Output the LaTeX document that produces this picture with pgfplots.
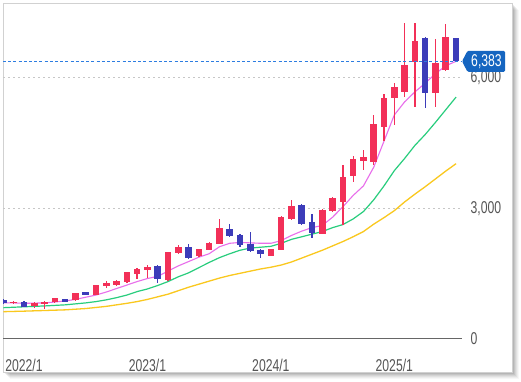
\documentclass[border=0pt]{standalone}
\usepackage{pgfplots}
\pgfplotsset{compat=1.18}
\usepackage{pgfplotstable}
\usepackage{fontspec}
\setmainfont{Liberation Sans}
\definecolor{cred}{RGB}{242,48,88}
\definecolor{cblue}{RGB}{60,60,185}
\definecolor{mapink}{RGB}{232,110,235}
\definecolor{magreen}{RGB}{40,205,125}
\definecolor{mayellow}{RGB}{250,200,30}
\definecolor{txtgray}{RGB}{85,85,85}
\definecolor{boxblue}{RGB}{21,101,192}
\definecolor{lineblue}{RGB}{45,125,225}

\pgfplotstableread{
m o h l c
-1 830 870 815 858
1 759 840 720 821
2 798 875 700 855
3 844 950 835 936
5 890 1060 880 1051
7 1020 1250 1010 1242
8 1219 1330 1170 1281
9 1235 1360 1225 1338
10 1300 1550 1290 1545
11 1495 1635 1390 1610
12 1587 1690 1400 1663
14 1357 2000 1340 1993
15 1970 2160 1960 2108
17 1915 2080 1880 2062
18 2046 2230 2040 2214
19 2184 2752 2180 2545
24 1909 2080 1900 2062
25 2046 2830 2040 2812
26 2752 3200 2740 3058
29 2420 2990 2410 2967
30 2944 3260 2930 3235
31 3157 4000 2622 3718
32 3748 4200 3617 4131
33 4100 4345 3885 4177
34 4060 5150 4000 4936
35 4870 5640 4550 5533
36 5550 5878 4920 5801
37 5686 7273 5571 6299
38 6376 7273 5341 6851
40 5648 6900 5326 6338
41 6184 7242 6150 6950
}\upT

\pgfplotstableread{
m o h l c
-2 905 925 815 830
0 858 870 730 745
4 913 925 845 858
6 1070 1090 1005 1020
13 1686 1700 1281 1373
16 2123 2180 1840 1855
20 2522 2640 2340 2368
21 2391 2420 2120 2150
22 2184 2467 2000 2023
23 2046 2080 1855 1955
27 3081 3100 2620 2645
28 2680 2874 2315 2440
39 6913 6950 5303 5648
42 6913 6930 6370 6383
}\downT

\pgfplotstableread{
m v
-2 830
-1 830
0 820
1 825
2 830
3 850
4 875
5 910
6 960
7 1010
8 1080
9 1160
10 1240
11 1320
12 1390
13 1440
14 1560
15 1680
16 1780
17 1880
18 1960
19 2120
20 2200
21 2220
22 2210
23 2200
24 2200
25 2260
26 2380
27 2480
28 2560
29 2610
30 2800
31 3040
32 3300
33 3520
34 3950
35 4550
36 5150
37 5450
38 5680
39 5880
40 6100
41 6280
42 6383
}\pinkT

\pgfplotstableread{
m v
-2 720
0 740
2 760
4 785
6 830
7 860
8 900
9 950
10 1010
11 1090
12 1150
13 1230
14 1320
15 1430
16 1520
17 1640
18 1760
19 1870
20 1960
21 2040
22 2090
23 2110
24 2130
25 2200
26 2290
27 2350
28 2410
29 2470
30 2560
31 2630
32 2760
33 2930
34 3200
35 3520
36 3870
37 4150
38 4450
39 4700
40 4980
41 5270
42 5560
}\greenT

\pgfplotstableread{
m v
-2 628
0 640
2 655
4 670
6 700
8 750
10 820
11 860
12 910
13 970
14 1030
15 1110
16 1190
17 1260
18 1330
19 1400
20 1460
21 1510
22 1560
23 1610
24 1650
25 1700
26 1770
27 1860
28 1950
29 2040
30 2140
31 2240
32 2350
33 2470
34 2640
35 2790
36 2950
37 3150
38 3330
39 3500
40 3680
41 3860
42 4030
}\yellowT

\begin{document}
\begin{tikzpicture}
\path[use as bounding box] (0,0) rectangle (521pt,382pt);
% shadow
\foreach \k/\op in {7/0.03,6/0.04,5/0.05,4/0.06,3/0.07,2/0.08,1/0.09}{
  \fill[black,opacity=\op] (3pt+\k pt,379pt-\k pt) rectangle (512pt+\k pt,10pt-\k pt);
}
\fill[white] (3pt,379pt) rectangle (512pt,10pt);
\draw[black!18,line width=0.8pt] (3pt,379pt) rectangle (512pt,10pt);

\begin{axis}[
  at={(3pt,43pt)}, anchor=south west,
  scale only axis, width=459pt, height=334pt,
  xmin=-2.04, xmax=42.58, ymin=0, ymax=7678,
  separate axis lines,
  axis x line*=bottom, axis y line*=right,
  x axis line style={draw=black!60,line width=1pt,-},
  y axis line style={draw=none},
  major tick length=0pt,
  xtick={0,12,24,36},
  xticklabels={2022/1,2023/1,2024/1,2025/1},
  ytick={0,3000,6000},
  yticklabels={0,{3,000},{6,000}},
  yticklabel pos=right,
  ymajorgrids,
  grid style={draw=black!22,dash pattern=on 2pt off 3pt,line width=1pt},
  xticklabel style={font=\fontsize{12.2}{14}\selectfont,text=txtgray,yscale=1.4,anchor=center,inner sep=0pt,yshift=-19pt},
  yticklabel style={font=\fontsize{12.2}{14}\selectfont,text=txtgray,yscale=1.4,anchor=west,inner sep=0pt,xshift=8.5pt,yshift=0pt},
  clip=true,
  candle/.style={draw=none,mark=none,forget plot,error bars/.cd,y dir=both,y explicit,error mark=none},
]
% moving averages
\addplot[draw=mayellow,line width=1.3pt,line join=round,mark=none] table[x=m,y=v] {\yellowT};
\addplot[draw=magreen,line width=1.2pt,line join=round,mark=none] table[x=m,y=v] {\greenT};
\addplot[draw=mapink,line width=1.1pt,line join=round,mark=none] table[x=m,y=v] {\pinkT};
% wicks
\addplot[candle,error bar style={line width=1.3pt,draw=cred,solid}]
  table[x=m,y expr={(\thisrow{h}+\thisrow{l})/2},y error expr={(\thisrow{h}-\thisrow{l})/2}] {\upT};
\addplot[candle,error bar style={line width=1.3pt,draw=cblue,solid}]
  table[x=m,y expr={(\thisrow{h}+\thisrow{l})/2},y error expr={(\thisrow{h}-\thisrow{l})/2}] {\downT};
% bodies
\addplot[candle,error bar style={line width=6.6pt,draw=cred,solid}]
  table[x=m,y expr={(\thisrow{o}+\thisrow{c})/2},y error expr={abs(\thisrow{c}-\thisrow{o})/2}] {\upT};
\addplot[candle,error bar style={line width=6.6pt,draw=cblue,solid}]
  table[x=m,y expr={(\thisrow{o}+\thisrow{c})/2},y error expr={abs(\thisrow{c}-\thisrow{o})/2}] {\downT};
% last price line
\draw[color=lineblue,line width=1.3pt,dash pattern=on 3pt off 2.2pt] (axis cs:-2.04,6383) -- (axis cs:42.58,6383);
\coordinate (lastp) at (axis cs:42.58,6383);
\end{axis}

\fill[boxblue,rounded corners=1.2pt] (lastp) -- ++(5.5pt,10.5pt) -- ++(37.5pt,0) -- ++(0,-21pt) -- ++(-37.5pt,0) -- cycle;
\path (lastp) ++(24.5pt,0) node[text=white,font=\fontsize{12.2}{14}\selectfont,yscale=1.4,inner sep=0pt] {6,383};
\end{tikzpicture}
\end{document}
